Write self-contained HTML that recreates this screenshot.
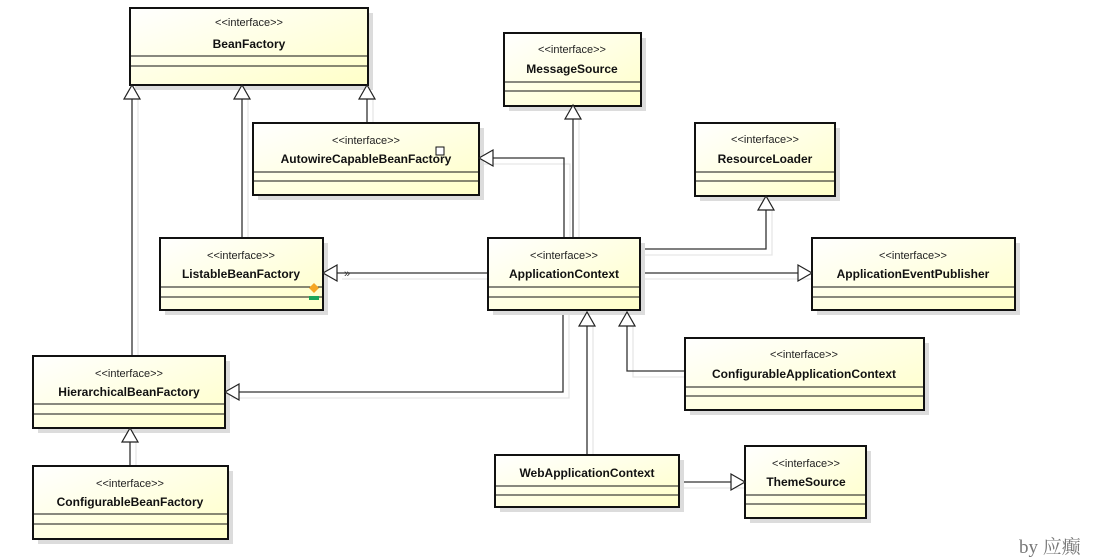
<!DOCTYPE html>
<html><head><meta charset="utf-8"><style>
html,body{margin:0;padding:0;background:#fff;}
svg{display:block}
.st{font-family:"Liberation Sans",sans-serif;font-size:11px;fill:#222;text-anchor:middle}
.nm{font-family:"Liberation Sans",sans-serif;font-size:12px;font-weight:bold;fill:#111;text-anchor:middle}
.box{stroke:#111;stroke-width:2;fill:url(#g)}
.sh{fill:#dcdcdc}
.ln{stroke:#333;stroke-width:1.3;fill:none}
.lg{stroke:#e6e6e6;stroke-width:1.3;fill:none}
.ar{stroke:#222;stroke-width:1.2;fill:#fff}
</style></head><body>
<svg width="1109" height="560" viewBox="0 0 1109 560" xmlns="http://www.w3.org/2000/svg">
<defs><linearGradient id="g" x1="0" y1="0" x2="1" y2="1"><stop offset="0" stop-color="#ffffff"/><stop offset="1" stop-color="#ffffc8"/></linearGradient></defs>

<g class="lg">
<path d="M138 99V355"/><path d="M248 99V238"/><path d="M373 99V123"/>
<path d="M579 119V238"/><path d="M570 238V164H484"/>
<path d="M640 255H772V210"/><path d="M640 279H812"/>
<path d="M342 279H487"/><path d="M569 312V398H231"/>
<path d="M593 326V455"/><path d="M633 326V377H685"/>
<path d="M136 442V465"/><path d="M679 488H745"/>
</g>
<g class="ln">
<path d="M132 99V355"/><path d="M242 99V238"/><path d="M367 99V123"/>
<path d="M573 119V238"/><path d="M564 238V158H493"/>
<path d="M640 249H766V208"/><path d="M640 273H798"/>
<path d="M337 273H487"/><path d="M563 310V392H239"/>
<path d="M587 326V455"/><path d="M627 326V371H685"/>
<path d="M130 442V466"/><path d="M679 482H731"/>
</g>
<text x="344" y="277" style="font-family:'Liberation Sans',sans-serif;font-size:11px;fill:#333">»</text>

<g>
<rect class="sh" x="135" y="13" width="238" height="77"/>
<rect class="box" x="130" y="8" width="238" height="77"/>
<path d="M131 56H367M131 66H367" stroke="#111" stroke-width="1"/>
<text class="st" x="249" y="26">&lt;&lt;interface&gt;&gt;</text><text class="nm" x="249" y="48">BeanFactory</text>

<rect class="sh" x="509" y="38" width="137" height="73"/>
<rect class="box" x="504" y="33" width="137" height="73"/>
<path d="M505 82H640M505 91H640" stroke="#111" stroke-width="1"/>
<text class="st" x="572" y="53">&lt;&lt;interface&gt;&gt;</text><text class="nm" x="572" y="73">MessageSource</text>

<rect class="sh" x="258" y="128" width="226" height="72"/>
<rect class="box" x="253" y="123" width="226" height="72"/>
<path d="M254 172H478M254 181H478" stroke="#111" stroke-width="1"/>
<text class="st" x="366" y="144">&lt;&lt;interface&gt;&gt;</text><text class="nm" x="366" y="163">AutowireCapableBeanFactory</text>
<rect x="436" y="147" width="8" height="8" fill="#fff" stroke="#111" stroke-width="1"/>

<rect class="sh" x="700" y="128" width="140" height="73"/>
<rect class="box" x="695" y="123" width="140" height="73"/>
<path d="M696 172H834M696 181H834" stroke="#111" stroke-width="1"/>
<text class="st" x="765" y="143">&lt;&lt;interface&gt;&gt;</text><text class="nm" x="765" y="163">ResourceLoader</text>

<rect class="sh" x="165" y="243" width="163" height="72"/>
<rect class="box" x="160" y="238" width="163" height="72"/>
<path d="M161 287H322M161 297H322" stroke="#111" stroke-width="1"/>
<text class="st" x="241" y="259">&lt;&lt;interface&gt;&gt;</text><text class="nm" x="241" y="278">ListableBeanFactory</text>
<path d="M314 283L319 288L314 293L309 288Z" fill="#f5a623"/>
<rect x="309" y="296" width="10" height="4" fill="#1aa55a"/>

<rect class="sh" x="493" y="243" width="152" height="72"/>
<rect class="box" x="488" y="238" width="152" height="72"/>
<path d="M489 287H639M489 297H639" stroke="#111" stroke-width="1"/>
<text class="st" x="564" y="259">&lt;&lt;interface&gt;&gt;</text><text class="nm" x="564" y="278">ApplicationContext</text>

<rect class="sh" x="817" y="243" width="203" height="72"/>
<rect class="box" x="812" y="238" width="203" height="72"/>
<path d="M813 287H1014M813 297H1014" stroke="#111" stroke-width="1"/>
<text class="st" x="913" y="259">&lt;&lt;interface&gt;&gt;</text><text class="nm" x="913" y="278">ApplicationEventPublisher</text>

<rect class="sh" x="38" y="361" width="192" height="72"/>
<rect class="box" x="33" y="356" width="192" height="72"/>
<path d="M34 404H224M34 414H224" stroke="#111" stroke-width="1"/>
<text class="st" x="129" y="377">&lt;&lt;interface&gt;&gt;</text><text class="nm" x="129" y="396">HierarchicalBeanFactory</text>

<rect class="sh" x="690" y="343" width="239" height="72"/>
<rect class="box" x="685" y="338" width="239" height="72"/>
<path d="M686 387H923M686 396H923" stroke="#111" stroke-width="1"/>
<text class="st" x="804" y="358">&lt;&lt;interface&gt;&gt;</text><text class="nm" x="804" y="378">ConfigurableApplicationContext</text>

<rect class="sh" x="38" y="471" width="195" height="73"/>
<rect class="box" x="33" y="466" width="195" height="73"/>
<path d="M34 514H227M34 524H227" stroke="#111" stroke-width="1"/>
<text class="st" x="130" y="487">&lt;&lt;interface&gt;&gt;</text><text class="nm" x="130" y="506">ConfigurableBeanFactory</text>

<rect class="sh" x="500" y="460" width="184" height="52"/>
<rect class="box" x="495" y="455" width="184" height="52"/>
<path d="M496 486H678M496 495H678" stroke="#111" stroke-width="1"/>
<text class="nm" x="587" y="477">WebApplicationContext</text>

<rect class="sh" x="750" y="451" width="121" height="72"/>
<rect class="box" x="745" y="446" width="121" height="72"/>
<path d="M746 495H865M746 504H865" stroke="#111" stroke-width="1"/>
<text class="st" x="806" y="467">&lt;&lt;interface&gt;&gt;</text><text class="nm" x="806" y="486">ThemeSource</text>
</g>

<g class="ar">
<path d="M132 85L124 99H140Z"/><path d="M242 85L234 99H250Z"/><path d="M367 85L359 99H375Z"/>
<path d="M573 105L565 119H581Z"/><path d="M479 158L493 150V166Z"/>
<path d="M766 196L758 210H774Z"/><path d="M812 273L798 265V281Z"/>
<path d="M323 273L337 265V281Z"/><path d="M225 392L239 384V400Z"/>
<path d="M587 312L579 326H595Z"/><path d="M627 312L619 326H635Z"/>
<path d="M130 428L122 442H138Z"/><path d="M745 482L731 474V490Z"/>
</g>

<text x="1019" y="553" style="font-family:'Liberation Serif','Noto Serif CJK SC',serif;font-size:19px;fill:#777">by 应癫</text>
</svg>
</body></html>
